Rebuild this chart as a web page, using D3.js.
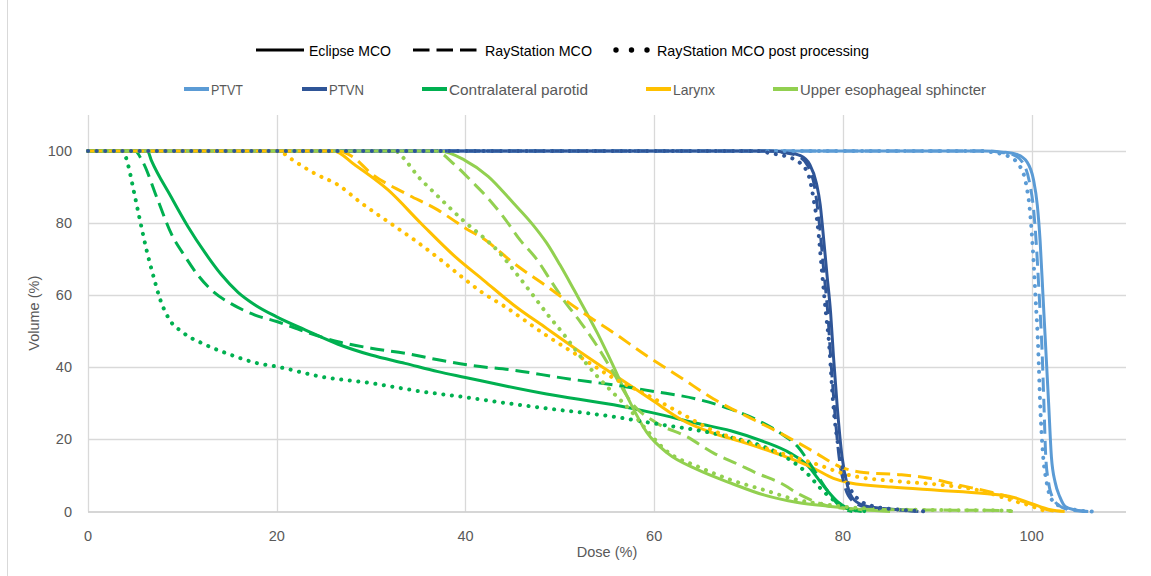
<!DOCTYPE html>
<html>
<head>
<meta charset="utf-8">
<script src="https://cdn.jsdelivr.net/npm/d3@7"></script>
<style>
  body { margin: 0; background: #fff; }
  svg { display: block; font-family: "Liberation Sans", Arial, sans-serif; }
</style>
</head>
<body>
<svg id="chart" width="1151" height="576"></svg>
<script>
// Legend labels
const methods = ["Eclipse MCO", "RayStation MCO", "RayStation MCO post processing"];
const structures = ["PTVT", "PTVN", "Contralateral parotid", "Larynx", "Upper esophageal sphincter"];
const structureColors = ["#5B9BD5", "#2F5597", "#00B050", "#FFC000", "#92D050"];

// Axis ticks
const xTicks = [0, 20, 40, 60, 80, 100];
const yTicks = [0, 20, 40, 60, 80, 100];

// DVH curves, [dose %, volume %]
const ptvtEclipse = [[0,100],[95,100],[97,99.7],[98.5,99],[99.5,97],[100.2,92],[100.6,85],[100.9,75],[101.2,60],[101.5,45],[101.8,30],[102.1,15],[102.5,8],[103,4],[103.6,1.3],[104.5,0.5],[106,0]];
const ptvtRay = [[0,100],[95,100],[96.5,99.7],[98,99],[99,97],[99.8,91],[100.2,84],[100.5,74],[100.8,60],[101.1,45],[101.3,30],[101.5,15],[101.8,8],[102.3,3.5],[103,1.5],[104,0.5],[106,0]];
const ptvtPost = [[0,100],[94.5,100],[96,99.6],[97.5,98.6],[98.7,96],[99.4,91],[99.8,84],[100.1,74],[100.4,60],[100.7,45],[100.9,30],[101.2,16],[101.6,8],[102.2,3],[103,1.5],[104.5,0.5],[106.5,0]];

const ptvnEclipse = [[0,100],[72,100],[74,99.6],[75.5,98.7],[76.5,96.2],[77.2,91],[77.6,85],[77.8,80],[78.3,66],[78.7,55],[79,43],[79.4,29],[79.9,15.3],[80.5,7],[81.2,3.2],[82.6,1.4],[86,0.5],[88,0]];
const ptvnRay = [[0,100],[72,100],[74,99.5],[75.3,98.5],[76.3,95.8],[77,90],[77.5,80],[78,66],[78.4,55],[78.7,43],[79.1,29],[79.6,15],[80.2,7],[81,3],[82.5,1.2],[86,0.4],[88,0]];
const ptvnPost = [[0,100],[71,100],[72.3,99.4],[74,98.5],[75.5,96.6],[76.4,93],[77,85],[77.3,80],[77.8,66],[78.2,55],[78.5,47.6],[79,29],[79.7,15.3],[80.5,8],[81.5,3.7],[83.3,1.4],[86,0.5],[89,0]];

const parotidEclipse = [[0,100],[6.3,100],[6.7,97.5],[8.8,87.3],[10.6,79],[12.4,71.8],[14.1,65.8],[15.9,60.8],[17.7,57.3],[20,54],[23,50.4],[26.5,46.4],[30,43.4],[33.6,41.1],[37.1,38.8],[40,37.2],[44.5,34.7],[48.6,32.6],[55.7,29.6],[60,27.3],[64.5,24.5],[68.1,22.4],[71.6,19.4],[74.4,16.2],[76.2,12.9],[78,6.9],[79.4,2.8],[80.5,0.9],[82,0]];
const parotidRay = [[0,100],[5,100],[5.7,97.5],[7.4,86.4],[8.8,77.2],[10.3,70.7],[11.7,65.4],[13.4,60.7],[15.2,57.6],[17.7,54.5],[20,52.7],[23,49.9],[26.5,47.1],[30,45.3],[33.6,43.9],[37.1,42.1],[40.7,40.5],[45.1,39.2],[50.4,37],[55.7,35.1],[60,33.3],[64.5,31.2],[68.1,28.4],[70.9,25.4],[73.4,21.7],[75.2,18],[76.6,12.9],[78.3,6],[79.7,1.4],[81,0]];
const parotidPost = [[0,100],[3.7,100],[4.2,96.6],[4.9,88.3],[5.5,80.9],[6.2,72.6],[6.9,65.6],[7.6,59.2],[8.5,53.8],[10.1,49.6],[12.5,46.2],[15.2,43.4],[18,41.1],[20,40.2],[24.7,37.4],[30,35.6],[35.3,33.3],[40,31.7],[44.5,30],[48.6,28.6],[55.7,26.3],[61,24],[64.5,22.6],[68.1,20.6],[71.6,18],[74.1,14.8],[76.2,10.6],[77.6,6.5],[79,3.2],[81,0.5],[83,0]];

const larynxEclipse = [[0,100],[26,100],[28.3,96.1],[31.8,89.2],[35.3,79.9],[38.9,70.7],[42,64],[45.1,57.3],[48.6,50.8],[52.2,44.2],[55.7,38],[60,30.5],[62.8,25.6],[66.3,21.7],[69.8,18.9],[73.4,15.7],[76.9,12],[79,9.2],[80.8,7.9],[85.1,6.8],[90,5.9],[95,5],[98,4],[100,2.2],[102,0.5],[103.5,0]];
const larynxRay = [[0,100],[26.5,100],[28,98.5],[30,93.8],[33.6,88.3],[37.1,83.6],[40,78.6],[42,75.5],[45.1,68.9],[48.6,62.5],[52.2,55.6],[55.7,49.6],[59.2,43.2],[62.8,37.2],[66.3,31.2],[69.9,26.3],[73.4,21.7],[76.9,16.6],[79.7,12.4],[82.2,10.8],[86.1,10.2],[89,9.3],[92,7.5],[97,4.5],[100,2],[102,0.3],[103,0]];
const larynxPost = [[0,100],[20.3,100],[21.2,98.4],[24,93.8],[26.5,90.6],[29,85.5],[31.8,80.4],[34.6,75.3],[37.1,70.4],[39.9,64.5],[41.7,60.9],[44.2,56.8],[48.6,48.8],[52.2,42.8],[55.7,37],[59.2,32.4],[62.8,27.3],[66.3,22.4],[69.9,19.2],[73.4,16.2],[76.9,13.4],[80.5,10.2],[86.1,8.3],[90,7.5],[95,5.5],[98,3],[100,1.5],[101,0.5],[102,0]];

const uesEclipse = [[0,100],[37.3,100],[39.9,97.5],[42.4,93],[45.1,85.5],[47,80],[48.6,74.5],[50,68.5],[51.5,61.5],[54,49.4],[55.7,40.2],[57.5,30],[59.2,22],[61.4,16.2],[64.6,11.6],[68.1,7.9],[71.6,4.6],[75.2,2.5],[78.7,1.4],[82.2,0.5],[85,0]];
const uesRay = [[0,100],[36.8,100],[38.9,96.1],[40.7,91.5],[42.4,86.9],[44,81.8],[45.8,75.3],[47.6,69.8],[49,64.2],[50.4,58.7],[52.2,52.5],[54,45.7],[55.7,38.4],[57.5,30.5],[60.3,24.5],[63.5,20.7],[66.3,16.2],[68.8,13.2],[70.9,10.6],[73.4,7.9],[75.5,4.6],[78.7,1.4],[82.2,0.6],[90,0.4],[97,0.3],[98,0]];
const uesPost = [[0,100],[32.5,100],[33.9,96.6],[35,92.9],[36.4,89.2],[38.2,84.6],[39.9,80.4],[41.7,76.5],[43.4,72.4],[45.1,67],[46.9,60.9],[48.6,55],[50.4,49.2],[52.2,43],[54,37.4],[55.7,32.8],[57.5,28],[59.2,22.6],[61.4,16.6],[64.6,12.5],[68.1,8.8],[71.6,6],[75.2,3.2],[78.7,1.8],[82.2,0.9],[90,0.4],[97,0.3],[98,0]];

// curves[structure][method]
const curves = [
  [ptvtEclipse, ptvtRay, ptvtPost],
  [ptvnEclipse, ptvnRay, ptvnPost],
  [parotidEclipse, parotidRay, parotidPost],
  [larynxEclipse, larynxRay, larynxPost],
  [uesEclipse, uesRay, uesPost]
];

const svg = d3.select("#chart");
const grid = "#d9d9d9";
const textGray = "#595959";

// outer frame edge
svg.append("line")
  .attr("x1", 7.5).attr("x2", 7.5)
  .attr("y1", 0).attr("y2", 576)
  .attr("stroke", grid);

const x = d3.scaleLinear().domain([0, 110]).range([88, 1126]);
const y = d3.scaleLinear().domain([0, 110]).range([511.5, 115]);

// gridlines
svg.append("g").selectAll("line.h")
  .data(yTicks.filter(d => d > 0))
  .enter().append("line")
  .attr("x1", x(0)).attr("x2", x(110))
  .attr("y1", d => Math.round(y(d)) + 0.5).attr("y2", d => Math.round(y(d)) + 0.5)
  .attr("stroke", grid).attr("stroke-width", 1.3);

svg.append("g").selectAll("line.v")
  .data(xTicks)
  .enter().append("line")
  .attr("x1", d => Math.round(x(d)) + 0.5).attr("x2", d => Math.round(x(d)) + 0.5)
  .attr("y1", y(110)).attr("y2", y(0))
  .attr("stroke", grid).attr("stroke-width", 1.3);

svg.append("line")
  .attr("x1", x(0)).attr("x2", x(110))
  .attr("y1", y(0) + 0.5).attr("y2", y(0) + 0.5)
  .attr("stroke", "#c8c8c8").attr("stroke-width", 1.5);

// tick labels
svg.append("g").selectAll("text")
  .data(xTicks)
  .enter().append("text")
  .attr("x", d => x(d))
  .attr("y", 541)
  .attr("text-anchor", "middle")
  .attr("fill", textGray)
  .style("font-size", "14.5px")
  .text(d => d);

svg.append("g").selectAll("text")
  .data(yTicks)
  .enter().append("text")
  .attr("x", 72)
  .attr("y", d => y(d) + 5)
  .attr("text-anchor", "end")
  .attr("fill", textGray)
  .style("font-size", "14.5px")
  .text(d => d);

// axis titles
svg.append("text")
  .attr("x", (x(0) + x(110)) / 2)
  .attr("y", 557)
  .attr("text-anchor", "middle")
  .attr("fill", textGray)
  .style("font-size", "14.5px")
  .text("Dose (%)");

svg.append("text")
  .attr("transform", `translate(39,${(y(0) + y(110)) / 2}) rotate(-90)`)
  .attr("text-anchor", "middle")
  .attr("fill", textGray)
  .style("font-size", "14.5px")
  .text("Volume (%)");

// line styles per method
const dashFor = ["none", "14,7", "0.1,8.5"];
const capFor = ["butt", "butt", "round"];
const widthFor = [3, 3, 4];

// stacking per method, chosen so the shared 100 % line looks like the original
const drawOrder = [
  [0, 1, 2, 3, 4],
  [0, 1, 2, 4, 3],
  [0, 2, 3, 4, 1]
];

const line = d3.line()
  .x(d => x(d[0]))
  .y(d => y(d[1]))
  .curve(d3.curveMonotoneX);

const plot = svg.append("g").attr("fill", "none");
[0, 1, 2].forEach(m => {
  drawOrder[m].forEach(s => {
    plot.append("path")
      .datum(curves[s][m])
      .attr("d", line)
      .attr("stroke", structureColors[s])
      .attr("stroke-width", widthFor[m])
      .attr("stroke-dasharray", dashFor[m])
      .attr("stroke-linecap", capFor[m])
      .attr("stroke-linejoin", "round");
  });
});

// legend row 1: methods
const methodX = [256, 413, 616];
const methodLen = [48, 65, 31];
const methodTextX = [309, 485, 657];
const methodTextW = [82, 107, 212];
methods.forEach((name, i) => {
  const g = svg.append("g");
  if (i === 2) {
    // three round dots
    g.selectAll("circle")
      .data([0, 0.5, 1])
      .enter().append("circle")
      .attr("cx", t => methodX[i] + t * methodLen[i])
      .attr("cy", 50)
      .attr("r", 2.7)
      .attr("fill", "#000");
  } else {
    g.append("line")
      .attr("x1", methodX[i]).attr("x2", methodX[i] + methodLen[i])
      .attr("y1", 50).attr("y2", 50)
      .attr("stroke", "#000")
      .attr("stroke-width", 3)
      .attr("stroke-dasharray", i === 1 ? "16.5,7" : "none");
  }
  g.append("text")
    .attr("x", methodTextX[i]).attr("y", 55.5)
    .attr("fill", "#000")
    .style("font-size", "15px")
    .attr("textLength", methodTextW[i])
    .attr("lengthAdjust", "spacingAndGlyphs")
    .text(name);
});

// legend row 2: structures
const structX = [184, 302, 422, 646, 773];
const structTextW = [32, 35, 139, 42, 186];
structures.forEach((name, i) => {
  const g = svg.append("g");
  g.append("line")
    .attr("x1", structX[i]).attr("x2", structX[i] + 25)
    .attr("y1", 89).attr("y2", 89)
    .attr("stroke", structureColors[i])
    .attr("stroke-width", 4);
  g.append("text")
    .attr("x", structX[i] + 27).attr("y", 94.5)
    .attr("fill", textGray)
    .style("font-size", "15px")
    .attr("textLength", structTextW[i])
    .attr("lengthAdjust", "spacingAndGlyphs")
    .text(name);
});
</script>
</body>
</html>
